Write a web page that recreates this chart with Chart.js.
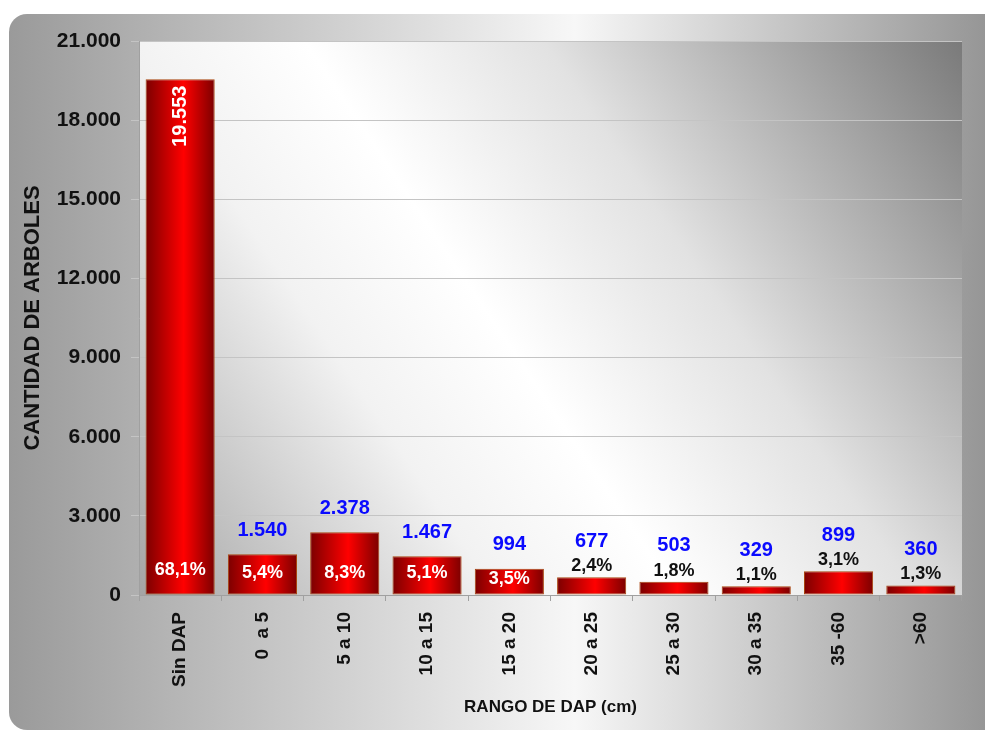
<!DOCTYPE html>
<html>
<head>
<meta charset="utf-8">
<script src="https://cdn.jsdelivr.net/npm/chart.js@4"></script>
<style>
  html, body { margin: 0; padding: 0; background: #ffffff; }
  #wrap { width: 985px; height: 730px; }
</style>
</head>
<body>
<div id="wrap"><canvas id="dap_chart"></canvas></div>
<script>
const rangos = ["Sin DAP", "0  a 5", "5 a 10", "10 a 15", "15 a 20", "20 a 25", "25 a 30", "30 a 35", "35 -60", ">60"];
const arboles = [19553, 1540, 2378, 1467, 994, 677, 503, 329, 899, 360];
const porcentajes = [68.1, 5.4, 8.3, 5.1, 3.5, 2.4, 1.8, 1.1, 3.1, 1.3];
const ejeMax = 21000;
const ejePaso = 3000;

const FONT = "'Liberation Sans', Arial, sans-serif";

function miles(v) {
  return String(v).replace(/\B(?=(\d{3})+(?!\d))/g, ".");
}
function pct(v) {
  return v.toFixed(1).replace(".", ",") + "%";
}

// gray panel + diagonal plot background
const fondo = {
  id: "fondo",
  beforeDraw(chart) {
    const c = chart.ctx;
    const W = chart.width, H = chart.height;
    c.save();
    const g = c.createLinearGradient(9, 0, W, 0);
    g.addColorStop(0, "#9a9a9a");
    g.addColorStop(0.58, "#f7f7f7");
    g.addColorStop(1, "#969696");
    c.fillStyle = g;
    c.beginPath();
    c.roundRect(9, 14, W + 20, H - 14, 18);
    c.fill();

    const a = chart.chartArea;
    const g2 = c.createLinearGradient(a.left, a.bottom, a.right, a.top);
    g2.addColorStop(0, "#a4a4a4");
    g2.addColorStop(0.3, "#f2f2f2");
    g2.addColorStop(0.45, "#ffffff");
    g2.addColorStop(0.65, "#e2e2e2");
    g2.addColorStop(1, "#7a7a7a");
    c.fillStyle = g2;
    c.fillRect(a.left, a.top, a.right - a.left, a.bottom - a.top);
    c.restore();
  }
};

// value and percentage labels on the bars
const etiquetas = {
  id: "etiquetas",
  afterDatasetsDraw(chart) {
    const c = chart.ctx;
    const meta = chart.getDatasetMeta(0);
    const base = chart.scales.y.getPixelForValue(0);
    c.save();
    c.textAlign = "center";
    c.textBaseline = "middle";
    meta.data.forEach((bar, i) => {
      const alto = base - bar.y;
      if (i === 0) {
        c.save();
        c.translate(bar.x, bar.y + 37);
        c.rotate(-Math.PI / 2);
        c.fillStyle = "#ffffff";
        c.font = "bold 20px " + FONT;
        c.fillText(miles(arboles[i]), 0, 0);
        c.restore();
        c.fillStyle = "#ffffff";
        c.font = "bold 18px " + FONT;
        c.fillText(pct(porcentajes[i]), bar.x, base - 25);
        return;
      }
      if (alto > 25) {
        c.fillStyle = "#ffffff";
        c.font = "bold 18px " + FONT;
        c.fillText(pct(porcentajes[i]), bar.x, Math.max(bar.y + 10, base - 22));
        c.fillStyle = "#0a0aff";
        c.font = "bold 20px " + FONT;
        c.fillText(miles(arboles[i]), bar.x, bar.y - 24);
      } else {
        c.fillStyle = "#111111";
        c.font = "bold 18px " + FONT;
        c.fillText(pct(porcentajes[i]), bar.x, bar.y - 11);
        c.fillStyle = "#0a0aff";
        c.font = "bold 20px " + FONT;
        c.fillText(miles(arboles[i]), bar.x, bar.y - 36);
      }
    });
    c.restore();
  }
};

function rojoBarra(context) {
  const chart = context.chart;
  const x = chart.scales.x;
  if (!chart.chartArea || context.dataIndex === undefined) return "#e00000";
  const cx = x.getPixelForValue(context.dataIndex);
  const half = (chart.chartArea.width / rangos.length) * 0.84 / 2;
  const g = chart.ctx.createLinearGradient(cx - half, 0, cx + half, 0);
  g.addColorStop(0, "#7c0000");
  g.addColorStop(0.55, "#ff0000");
  g.addColorStop(1, "#7c0000");
  return g;
}

Chart.defaults.font.family = FONT;
Chart.defaults.color = "#111111";

new Chart(document.getElementById("dap_chart"), {
  type: "bar",
  data: {
    labels: rangos,
    datasets: [{
      label: "CANTIDAD DE ARBOLES",
      data: arboles,
      backgroundColor: rojoBarra,
      borderColor: "#a8450f",
      borderWidth: 1,
      borderSkipped: false,
      barPercentage: 0.84,
      categoryPercentage: 1
    }]
  },
  options: {
    responsive: true,
    maintainAspectRatio: false,
    animation: false,
    devicePixelRatio: 1,
    layout: { padding: { left: 16, top: 41, right: 23, bottom: 8 } },
    plugins: {
      legend: { display: false },
      tooltip: { enabled: false }
    },
    scales: {
      x: {
        afterFit(scale) { scale.height = 127; },
        grid: { drawOnChartArea: false, drawTicks: true, tickLength: 6, color: "#a0a0a0", offset: true },
        border: { color: "#a0a0a0" },
        ticks: {
          autoSkip: false,
          minRotation: 90,
          maxRotation: 90,
          padding: 11,
          font: { size: 19, weight: "bold" },
          color: "#111111"
        },
        title: {
          display: true,
          text: "RANGO DE DAP (cm)",
          font: { size: 17, weight: "bold" },
          color: "#111111",
          padding: { top: 4, bottom: 4 }
        }
      },
      y: {
        min: 0,
        max: ejeMax,
        afterFit(scale) { scale.width = 123; },
        grid: { color: "#c4c4c4", tickLength: 8 },
        border: { color: "#a0a0a0" },
        ticks: {
          stepSize: ejePaso,
          padding: 10,
          font: { size: 21, weight: "bold" },
          color: "#111111",
          callback: (v) => miles(v)
        },
        title: {
          display: true,
          text: "CANTIDAD DE ARBOLES",
          font: { size: 22, weight: "bold" },
          color: "#111111",
          padding: { top: 4, bottom: 4 }
        }
      }
    }
  },
  plugins: [fondo, etiquetas]
});
</script>
</body>
</html>
